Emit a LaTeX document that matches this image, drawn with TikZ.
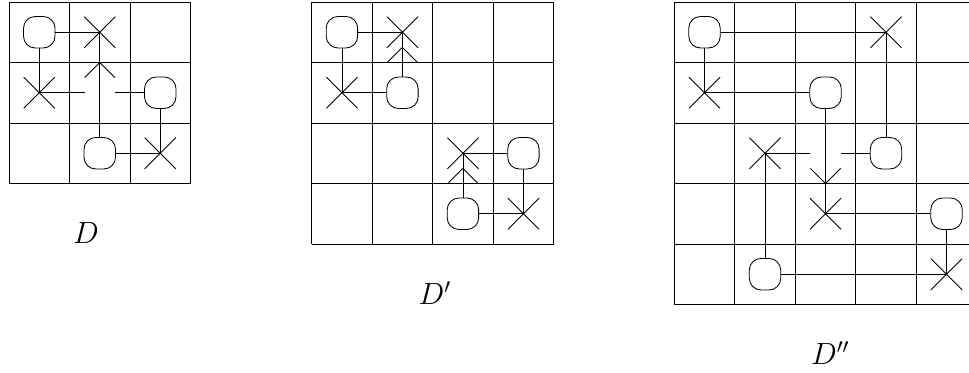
\documentclass[tikz,border=0pt]{standalone}
\usetikzlibrary{shapes.misc}

\begin{document}
\begin{tikzpicture}[
    font=\Large,
    pin/.style={rectangle, rounded corners=5.5pt, draw, minimum size=5.2mm, inner sep=0pt},
    cross/.style={cross out, draw, minimum size=5mm, inner sep=0pt},
    tag/.style={anchor=base west, inner sep=0pt},
]
\useasboundingbox (0,0) rectangle (16.017,-6.149);

% diagram D
\begin{scope}[shift={(0.149,-0.033)}]
\draw (0,-3) grid (3,0);
\node[pin] (o100) at (0.5,-0.5) {};
\node[cross] (x101) at (1.5,-0.5) {};
\node[cross] (x110) at (0.5,-1.5) {};
\node[pin] (o112) at (2.5,-1.5) {};
\node[pin] (o121) at (1.5,-2.5) {};
\node[cross] (x122) at (2.5,-2.5) {};
\coordinate (g1l) at (1.25,-1.5);
\coordinate (g1r) at (1.75,-1.5);
\draw (o100) -- (x101.center);
\draw (o100) -- (x110.center);
\draw (x110.center) -- (g1l);
\draw (o112) -- (g1r);
\draw (o121) -- (x101.center);
\draw (o112) -- (x122.center);
\draw (o121) -- (x122.center);
\draw (1.25,-1.25) -- (1.5,-1) -- (1.75,-1.25);
\end{scope}

% diagram D'
\begin{scope}[shift={(5.152,-0.033)}]
\draw (0,-4) grid (4,0);
\node[pin] (o200) at (0.5,-0.5) {};
\node[cross] (x201) at (1.5,-0.5) {};
\node[cross] (x210) at (0.5,-1.5) {};
\node[pin] (o211) at (1.5,-1.5) {};
\node[cross] (x222) at (2.5,-2.5) {};
\node[pin] (o223) at (3.5,-2.5) {};
\node[pin] (o232) at (2.5,-3.5) {};
\node[cross] (x233) at (3.5,-3.5) {};
\draw (o200) -- (x201.center);
\draw (o200) -- (x210.center);
\draw (x210.center) -- (o211);
\draw (o211) -- (x201.center);
\draw (o223) -- (x222.center);
\draw (o223) -- (x233.center);
\draw (o232) -- (x233.center);
\draw (o232) -- (x222.center);
\draw (1.25,-1) -- (1.5,-0.75) -- (1.75,-1);
\draw (2.25,-3) -- (2.5,-2.75) -- (2.75,-3);
\end{scope}

% diagram D''
\begin{scope}[shift={(11.145,-0.033)}]
\draw (0,-5) grid (5,0);
\node[pin] (o300) at (0.5,-0.5) {};
\node[cross] (x303) at (3.5,-0.5) {};
\node[cross] (x310) at (0.5,-1.5) {};
\node[pin] (o312) at (2.5,-1.5) {};
\node[cross] (x321) at (1.5,-2.5) {};
\node[pin] (o323) at (3.5,-2.5) {};
\node[cross] (x332) at (2.5,-3.5) {};
\node[pin] (o334) at (4.5,-3.5) {};
\node[pin] (o341) at (1.5,-4.5) {};
\node[cross] (x344) at (4.5,-4.5) {};
\coordinate (g3l) at (2.25,-2.5);
\coordinate (g3r) at (2.75,-2.5);
\draw (o300) -- (x303.center);
\draw (o300) -- (x310.center);
\draw (x310.center) -- (o312);
\draw (o312) -- (x332.center);
\draw (o323) -- (x303.center);
\draw (o323) -- (g3r);
\draw (x321.center) -- (g3l);
\draw (x321.center) -- (o341);
\draw (o341) -- (x344.center);
\draw (o334) -- (x344.center);
\draw (o334) -- (x332.center);
\draw (2.25,-2.75) -- (2.5,-3) -- (2.75,-2.75);
\end{scope}

\node[tag] (lD) at (1.202,-4.02) {$D$};
\node[tag] (lD1) at (6.914,-5.03) {$D'$};
\node[tag] (lD2) at (13.40,-6.033) {$D''$};

\end{tikzpicture}
\end{document}
